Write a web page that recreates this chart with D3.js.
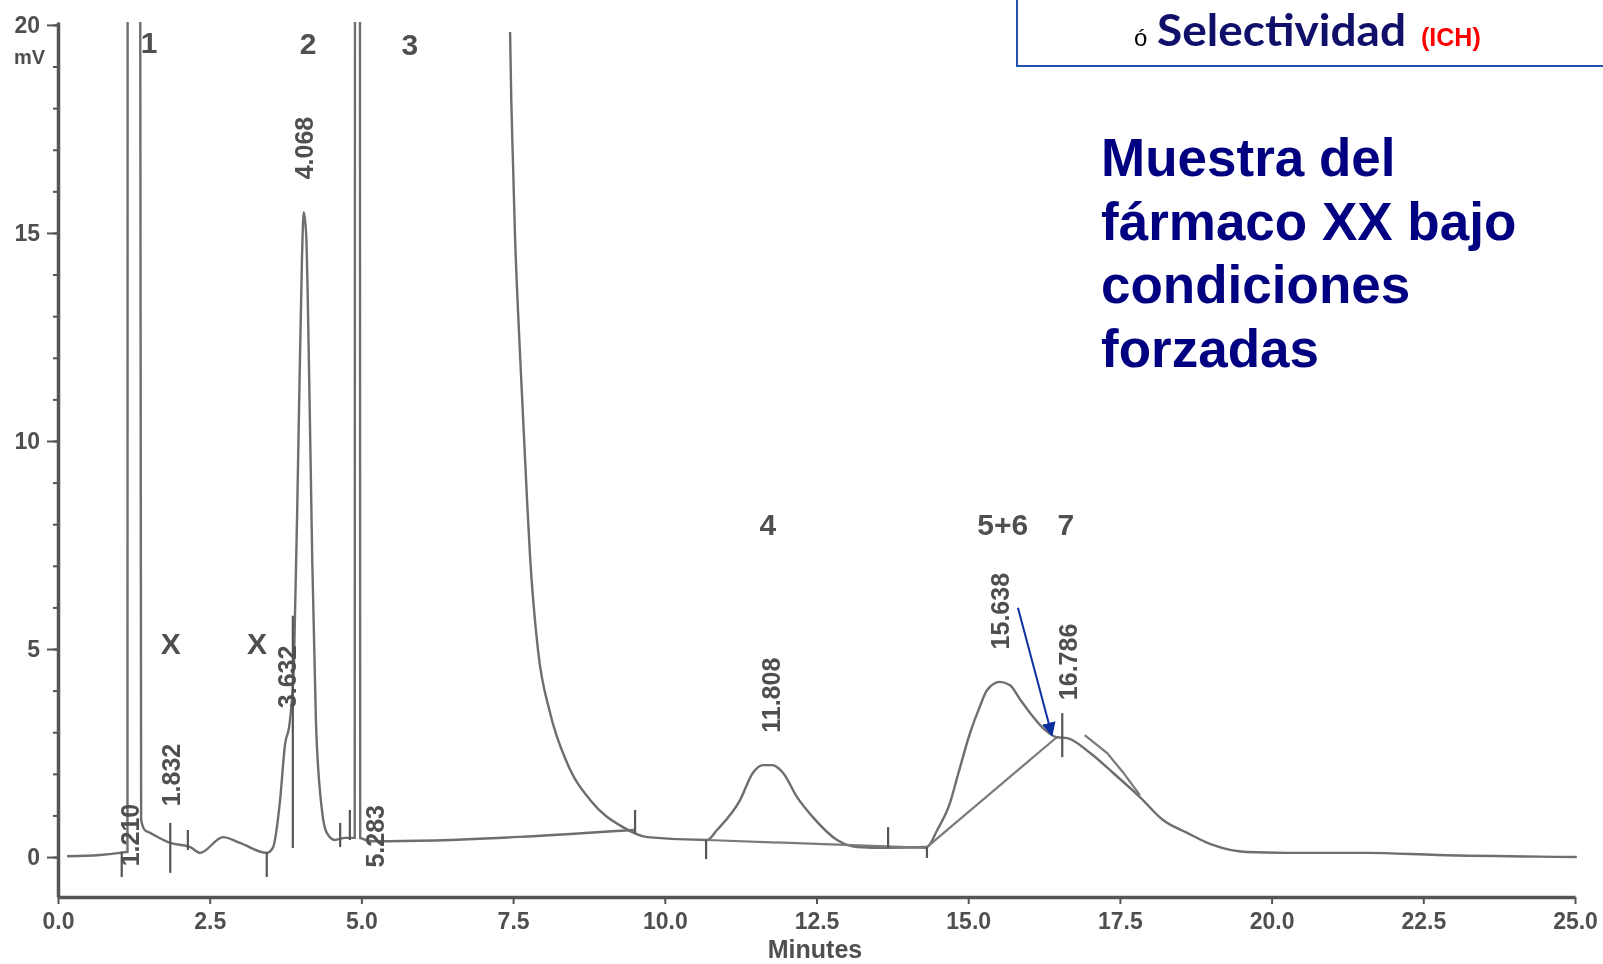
<!DOCTYPE html>
<html>
<head>
<meta charset="utf-8">
<script src="https://cdn.jsdelivr.net/npm/d3@7"></script>
<style>
    body { margin: 0; background: #fff; }
    svg { display: block; }
    .scan text { font-family: "Liberation Sans", Arial, sans-serif; font-weight: bold; fill: #505050; }
    .axis path, .axis line { stroke: #555; }
</style>
</head>
<body>
<div id="chart"></div>
<script>
// ticks of the axes
var xTicks = [0, 2.5, 5, 7.5, 10, 12.5, 15, 17.5, 20, 22.5, 25];
var yTicks = [0, 5, 10, 15, 20];
var yMinor = d3.range(0, 21);

// detector signal, minutes / mV (off-scale tops set to 25 and clipped)
var traceA = [
    [0.15, 0.02], [0.69, 0.05], [1.02, 0.10], [1.12, 0.12], [1.145, 0.12], [1.148, 25], [1.352, 25],
    [1.37, 0.89], [1.43, 0.65], [1.52, 0.58], [1.85, 0.34], [2.18, 0.24], [2.34, 0.10], [2.72, 0.48],
    [3.0, 0.34], [3.44, 0.10], [3.54, 0.22], [3.66, 1.37], [3.74, 2.69], [3.82, 3.25], [3.89, 4.74],
    [3.96, 9.78], [4.02, 14.35], [4.05, 15.5], [4.09, 14.95], [4.14, 11.47], [4.19, 7.14], [4.25, 3.29],
    [4.35, 1.13], [4.43, 0.58], [4.56, 0.41], [4.73, 0.46], [4.86, 0.46], [4.89, 0.46], [4.895, 25],
    [4.975, 25], [4.98, 0.46], [5.19, 0.38], [9.49, 0.65]
];
var traceB = [
    [7.45, 19.83], [7.47, 18.2], [7.50, 16.6], [7.53, 15.0], [7.58, 13.15], [7.65, 11.0], [7.73, 8.58],
    [7.78, 7.21], [7.91, 4.98], [8.11, 3.46], [8.39, 2.26], [8.77, 1.37], [9.31, 0.72], [9.71, 0.48],
    [10.70, 0.41], [10.86, 0.65], [11.24, 1.37], [11.45, 2.02], [11.62, 2.21], [11.77, 2.21], [11.95, 2.02],
    [12.18, 1.44], [12.44, 0.96], [12.84, 0.41], [13.17, 0.24], [13.68, 0.22], [14.32, 0.24], [14.49, 0.65],
    [14.70, 1.30], [14.82, 1.92], [15.03, 2.98], [15.19, 3.61], [15.31, 4.01], [15.52, 4.21], [15.69, 4.13],
    [15.85, 3.80], [16.07, 3.37], [16.27, 3.05], [16.46, 2.88], [16.63, 2.86], [17.01, 2.50], [17.39, 2.02],
    [17.83, 1.44], [18.21, 0.89], [18.61, 0.58], [19.03, 0.29], [19.59, 0.12], [20.42, 0.10], [21.57, 0.10],
    [22.73, 0.05], [25.03, 0.0]
];
// integration baselines drawn by the integrator
var baseLines = [
    [[10.70, 0.41], [14.32, 0.22]],
    [[14.32, 0.24], [16.46, 2.88]],
    [[16.92, 2.93], [17.29, 2.50], [17.55, 2.04], [17.83, 1.49]]
];
// integration event marks: time, from mV, to mV
var eventTicks = [
    [1.05, 0.12, -0.48], [1.85, 0.82, -0.38], [2.14, 0.65, 0.17], [3.44, 0.12, -0.48],
    [3.87, 0.22, 5.8], [4.65, 0.82, 0.24], [4.81, 1.13, 0.41], [9.51, 1.13, 0.58],
    [10.68, 0.41, -0.05], [13.68, 0.22, 0.72], [14.32, 0.24, -0.02], [16.55, 3.46, 2.4]
];
// retention times printed vertically
var rtNames = ['1.210', '1.832', '3.632', '4.068', '5.283', '11.808', '15.638', '16.786'];
var rtAt = [[1.19, 0.53], [1.86, 1.97], [3.77, 4.33], [4.05, 17.04], [5.22, 0.50], [11.75, 3.89], [15.52, 5.91], [16.64, 4.69]];
// peak numbers
var peakNames = ['1', '2', '3', 'X', 'X', '4', '5+6', '7'];
var peakAt = [[1.50, 19.59], [4.12, 19.57], [5.80, 19.54], [1.86, 5.14], [3.28, 5.14], [11.70, 8.0], [15.57, 8.0], [16.61, 8.0]];
// arrow pointing at peak 7
var arrowFrom = [15.82, 5.99];
var arrowTo = [16.38, 2.93];

var width = 1603;
var height = 964;

var svg = d3.select('#chart')
    .append('svg')
    .attr('width', width)
    .attr('height', height);

var defs = svg.append('defs');
defs.append('filter').attr('id', 'soft')
    .append('feGaussianBlur').attr('stdDeviation', 0.55);
defs.append('clipPath').attr('id', 'plotClip')
    .append('rect').attr('x', 50).attr('y', 22).attr('width', 1540).attr('height', 880);
defs.append('marker')
    .attr('id', 'head')
    .attr('viewBox', '0 0 10 10')
    .attr('refX', 9).attr('refY', 5)
    .attr('markerWidth', 7).attr('markerHeight', 7)
    .attr('markerUnits', 'strokeWidth')
    .attr('orient', 'auto')
    .append('path').attr('d', 'M0,0 L10,5 L0,10 z').attr('fill', '#0a2fa0');

var xScale = d3.scaleLinear().domain([0, 25]).range([58, 1575]);
var yScale = d3.scaleLinear().domain([-0.96, 20.07]).range([897, 22]);

var scan = svg.append('g').attr('class', 'scan').attr('filter', 'url(#soft)');

// axes
var xAxis = d3.axisBottom(xScale).tickValues(xTicks).tickSize(7).tickSizeOuter(0)
    .tickFormat(d3.format('.1f'));
var gx = scan.append('g').attr('class', 'axis')
    .attr('transform', 'translate(0,' + yScale(-0.96) + ')')
    .call(xAxis);
gx.select('.domain').attr('stroke-width', 3.5);
gx.selectAll('.tick line').attr('stroke-width', 2);
gx.selectAll('.tick text').attr('font-size', 23).attr('dy', '0.95em').attr('fill', '#4d4d4d');

var gyMinor = scan.append('g').attr('class', 'axis')
    .attr('transform', 'translate(' + xScale(0) + ',0)')
    .call(d3.axisLeft(yScale).tickValues(yMinor).tickSize(5).tickFormat(''));
gyMinor.select('.domain').remove();
gyMinor.selectAll('.tick line').attr('stroke-width', 2);

var yAxis = d3.axisLeft(yScale).tickValues(yTicks).tickSize(11).tickSizeOuter(0);
var gy = scan.append('g').attr('class', 'axis')
    .attr('transform', 'translate(' + xScale(0) + ',0)')
    .call(yAxis);
gy.select('.domain').attr('stroke-width', 3.5);
gy.selectAll('.tick line').attr('stroke-width', 2);
gy.selectAll('.tick text').attr('font-size', 23).attr('x', -18).attr('fill', '#4d4d4d');

scan.append('text').attr('x', 14).attr('y', 64).attr('font-size', 20).text('mV');
scan.append('text').attr('x', 815).attr('y', 958).attr('font-size', 25)
    .attr('text-anchor', 'middle').text('Minutes');

// signal
var linePath = d3.line()
    .x(function (d) { return xScale(d[0]); })
    .y(function (d) { return yScale(d[1]); })
    .curve(d3.curveMonotoneX);

var plot = scan.append('g').attr('clip-path', 'url(#plotClip)');
[traceA, traceB].forEach(function (tr) {
    plot.append('path')
        .attr('d', linePath(tr))
        .attr('fill', 'none')
        .attr('stroke', '#6e6e6e')
        .attr('stroke-width', 2.4);
});

var straight = d3.line()
    .x(function (d) { return xScale(d[0]); })
    .y(function (d) { return yScale(d[1]); });
plot.selectAll('.bl')
    .data(baseLines)
    .enter()
    .append('path')
    .attr('class', 'bl')
    .attr('d', function (d) { return straight(d); })
    .attr('fill', 'none')
    .attr('stroke', '#7a7a7a')
    .attr('stroke-width', 2.2);

plot.selectAll('.ev')
    .data(eventTicks)
    .enter()
    .append('line')
    .attr('class', 'ev')
    .attr('x1', function (d) { return xScale(d[0]); })
    .attr('x2', function (d) { return xScale(d[0]); })
    .attr('y1', function (d) { return yScale(d[1]); })
    .attr('y2', function (d) { return yScale(d[2]); })
    .attr('stroke', '#555')
    .attr('stroke-width', 2.2);

// labels
scan.selectAll('.rt')
    .data(rtNames)
    .enter()
    .append('text')
    .attr('class', 'rt')
    .attr('transform', function (d, i) {
        return 'translate(' + xScale(rtAt[i][0]) + ',' + yScale(rtAt[i][1]) + ') rotate(-90)';
    })
    .attr('text-anchor', 'middle')
    .attr('dy', '0.36em')
    .attr('font-size', 25)
    .attr('fill', '#454545')
    .text(function (d) { return d; });

scan.selectAll('.pk')
    .data(peakNames)
    .enter()
    .append('text')
    .attr('class', 'pk')
    .attr('x', function (d, i) { return xScale(peakAt[i][0]); })
    .attr('y', function (d, i) { return yScale(peakAt[i][1]); })
    .attr('text-anchor', 'middle')
    .attr('dy', '0.36em')
    .attr('font-size', 30)
    .attr('font-weight', 'normal')
    .attr('fill', '#555')
    .text(function (d) { return d; });

// arrow
svg.append('line')
    .attr('x1', xScale(arrowFrom[0])).attr('y1', yScale(arrowFrom[1]))
    .attr('x2', xScale(arrowTo[0])).attr('y2', yScale(arrowTo[1]))
    .attr('stroke', '#0a2fa0')
    .attr('stroke-width', 2)
    .attr('marker-end', 'url(#head)');

// slide text
svg.append('path')
    .attr('d', 'M1017,0 V66 H1603')
    .attr('fill', 'none')
    .attr('stroke', '#2452b0')
    .attr('stroke-width', 2);

svg.append('text').attr('x', 1134).attr('y', 46)
    .attr('font-family', 'Liberation Sans, Arial, sans-serif')
    .attr('font-size', 24).attr('fill', '#000').text('ó');
svg.append('text').attr('x', 1157).attr('y', 46)
    .attr('font-family', '"Comic Sans MS", Lato, "Noto Sans", sans-serif')
    .attr('font-weight', 'bold').attr('font-size', 43)
    .attr('textLength', 249).attr('lengthAdjust', 'spacingAndGlyphs')
    .attr('fill', '#10106a').text('Selectividad');
svg.append('text').attr('x', 1421).attr('y', 46)
    .attr('font-family', 'Liberation Sans, Arial, sans-serif')
    .attr('font-weight', 'bold').attr('font-size', 25)
    .attr('fill', '#ff0000').text('(ICH)');

var sampleLines = ['Muestra del', 'fármaco XX bajo', 'condiciones', 'forzadas'];
svg.selectAll('.note')
    .data(sampleLines)
    .enter()
    .append('text')
    .attr('class', 'note')
    .attr('x', 1101)
    .attr('y', function (d, i) { return 176 + i * 63.5; })
    .attr('font-family', 'Liberation Sans, Arial, sans-serif')
    .attr('font-weight', 'bold')
    .attr('font-size', 53)
    .attr('fill', '#000080')
    .text(function (d) { return d; });
</script>
</body>
</html>
